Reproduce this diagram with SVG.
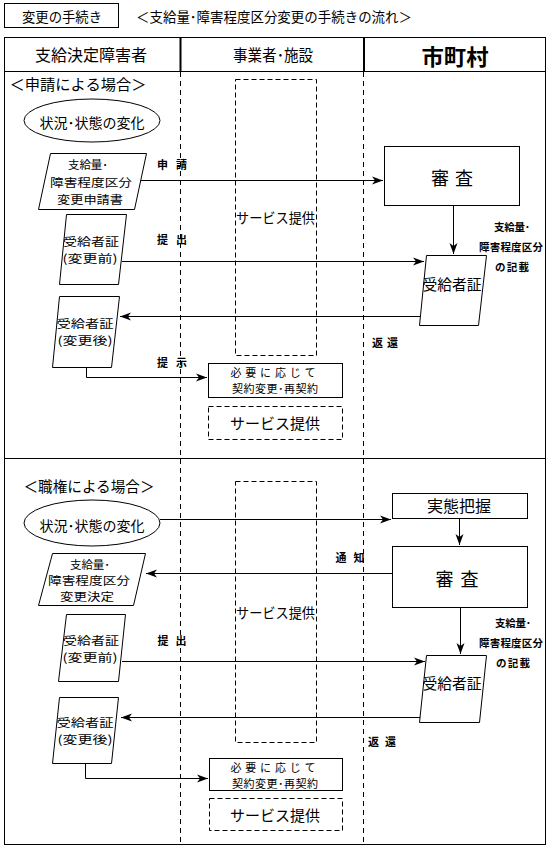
<svg xmlns="http://www.w3.org/2000/svg" width="552" height="851" viewBox="0 0 552 851">
<style>
text{font-family:"Noto Sans CJK JP","Noto Sans",sans-serif;fill:#000;dominant-baseline:central;text-anchor:middle}
.s{font-size:11px;font-weight:bold}
.n{font-size:11px}
.xs{font-size:10.5px;font-weight:bold}
.m{font-size:14px}
.ml{font-size:11.5px}
.mp{font-size:11px}
.l{font-size:15px}
.h{font-size:16px}
.st{font-size:18px}
.ln{fill:none;stroke:#000;stroke-width:1}
.ar{fill:none;stroke:#000;stroke-width:1;marker-end:url(#ah)}
.box{fill:#fff;stroke:#000;stroke-width:1}
.dbox{fill:none;stroke:#000;stroke-width:1;stroke-dasharray:5 3}
.dcol{fill:none;stroke:#000;stroke-width:1;stroke-dasharray:5 4}
</style>
<defs>
<marker id="ah" markerUnits="userSpaceOnUse" markerWidth="12" markerHeight="10" refX="11" refY="4" orient="auto" viewBox="0 0 12 8">
<path d="M0,0 L11,4 L0,8 L3,4 Z" fill="#000"/>
</marker>
</defs>
<rect width="552" height="851" fill="#fff"/>

<g id="title">
<rect x="4.5" y="3.5" width="114" height="24" class="box"/>
<text x="62" y="16" class="m" textLength="80" lengthAdjust="spacingAndGlyphs">変更の手続き</text>
<text x="274" y="16" class="m" textLength="276" lengthAdjust="spacingAndGlyphs">＜支給量･障害程度区分変更の手続きの流れ＞</text>
</g>

<g id="table">
<rect x="4.5" y="37.5" width="541" height="807" class="ln"/>
<line x1="4" y1="71.5" x2="546" y2="71.5" class="ln"/>
<line x1="180.5" y1="37" x2="180.5" y2="71" stroke="#000" stroke-width="2"/>
<line x1="364" y1="37" x2="364" y2="71" stroke="#000" stroke-width="2"/>
<line x1="180.5" y1="72" x2="180.5" y2="845" class="dcol"/>
<line x1="363.5" y1="72" x2="363.5" y2="845" class="dcol"/>
<line x1="4" y1="458.5" x2="546" y2="458.5" class="ln"/>
<text x="91" y="54" class="h" textLength="112" lengthAdjust="spacingAndGlyphs">支給決定障害者</text>
<text x="273" y="54" class="h" textLength="80" lengthAdjust="spacingAndGlyphs">事業者･施設</text>
<text x="455" y="55" style="font-size:22px;font-weight:bold" textLength="67" lengthAdjust="spacingAndGlyphs">市町村</text>
</g>

<g id="upper-label"><text x="78" y="83" class="l" textLength="137" lengthAdjust="spacingAndGlyphs">＜申請による場合＞</text></g>

<g id="connectors">
<path d="M140,180.5 H383" class="ar"/>
<path d="M122,261.5 H424" class="ar"/>
<path d="M453.5,205 V254" class="ar"/>
<path d="M421,316.5 H120" class="ar"/>
<path d="M86.5,367 V377.5 H207" class="ar"/>
<path d="M160,519.5 H391" class="ar"/>
<path d="M459.5,518 V545" class="ar"/>
<path d="M392,573.5 H146" class="ar"/>
<path d="M122,661.5 H425" class="ar"/>
<path d="M460.5,607 V654" class="ar"/>
<path d="M421,717.5 H121" class="ar"/>
<path d="M85.5,763 V778.5 H208" class="ar"/>
</g>

<g id="conn-labels">
<text x="172" y="164" class="s" textLength="30" lengthAdjust="spacing">申 請</text>
<text x="172" y="239" class="s" textLength="30" lengthAdjust="spacing">提 出</text>
<text x="385" y="342" class="s" textLength="26" lengthAdjust="spacing">返 還</text>
<text x="172" y="362" class="s" textLength="30" lengthAdjust="spacing">提 示</text>
<text x="350" y="557" class="s" textLength="29" lengthAdjust="spacing">通 知</text>
<text x="172" y="640" class="s" textLength="29" lengthAdjust="spacing">提 出</text>
<text x="382" y="741" class="s" textLength="28" lengthAdjust="spacing">返 還</text>
<text x="512" y="226" class="xs" textLength="36" lengthAdjust="spacing">支給量･</text>
<text x="511" y="246" class="xs" textLength="64" lengthAdjust="spacing">障害程度区分</text>
<text x="512" y="266" class="xs" textLength="34" lengthAdjust="spacing">の記載</text>
<text x="513" y="622" class="xs" textLength="36" lengthAdjust="spacing">支給量･</text>
<text x="511" y="642" class="xs" textLength="64" lengthAdjust="spacing">障害程度区分</text>
<text x="513" y="662" class="xs" textLength="34" lengthAdjust="spacing">の記載</text>
</g>

<g id="u-change">
<ellipse cx="92" cy="120.5" rx="68" ry="21.5" class="box"/>
<text x="92" y="122" class="m" textLength="105" lengthAdjust="spacingAndGlyphs">状況･状態の変化</text>
</g>
<g id="u-request">
<polygon points="50.5,153.5 146.5,153.5 134.5,209.5 38.5,209.5" class="box"/>
<text x="88" y="164" class="ml" textLength="40" lengthAdjust="spacingAndGlyphs">支給量･</text>
<text x="91" y="181.5" class="ml" textLength="82" lengthAdjust="spacingAndGlyphs">障害程度区分</text>
<text x="90" y="199" class="ml" textLength="66" lengthAdjust="spacingAndGlyphs">変更申請書</text>
</g>
<g id="u-cert-before">
<polygon points="66.5,214.5 126.5,214.5 118.5,284.5 59.5,284.5" class="box"/>
<text x="91" y="241" class="ml" textLength="56" lengthAdjust="spacingAndGlyphs">受給者証</text>
<text x="90" y="258" class="ml" textLength="55" lengthAdjust="spacingAndGlyphs">(変更前)</text>
</g>
<g id="u-cert-after">
<polygon points="59.5,296.5 119.5,296.5 111.5,367.5 52.5,367.5" class="box"/>
<text x="85" y="323" class="ml" textLength="57" lengthAdjust="spacingAndGlyphs">受給者証</text>
<text x="85" y="340" class="ml" textLength="55" lengthAdjust="spacingAndGlyphs">(変更後)</text>
</g>
<g id="u-service-tall">
<rect x="235.5" y="79.5" width="81" height="276" class="dbox"/>
<text x="236" y="217" class="m" style="text-anchor:start" textLength="79" lengthAdjust="spacingAndGlyphs">サービス提供</text>
</g>
<g id="u-contract">
<rect x="208.5" y="363.5" width="134" height="34" class="box"/>
<text x="273" y="372" class="n" textLength="85" lengthAdjust="spacing">必要に応じて</text>
<text x="275" y="388" class="n" textLength="86" lengthAdjust="spacing">契約変更･再契約</text>
</g>
<g id="u-service">
<rect x="208.5" y="406.5" width="134" height="33" class="dbox"/>
<text x="275" y="422" class="l" textLength="90" lengthAdjust="spacingAndGlyphs">サービス提供</text>
</g>
<g id="u-review">
<rect x="384.5" y="146.5" width="135" height="59" class="box"/>
<text x="452" y="177" class="st" textLength="42" lengthAdjust="spacing">審 査</text>
</g>
<g id="u-cert">
<polygon points="426.5,255.5 486.5,255.5 478.5,325.5 419.5,325.5" class="box"/>
<text x="452" y="283" class="l" textLength="59" lengthAdjust="spacingAndGlyphs">受給者証</text>
</g>

<g id="lower-label"><text x="89" y="485" class="l" textLength="131" lengthAdjust="spacingAndGlyphs">＜職権による場合＞</text></g>

<g id="l-change">
<ellipse cx="92" cy="523" rx="68" ry="23" class="box"/>
<text x="92" y="525" class="m" textLength="105" lengthAdjust="spacingAndGlyphs">状況･状態の変化</text>
</g>
<g id="l-decision">
<polygon points="52.5,553.5 145.5,553.5 133.5,605.5 38.5,605.5" class="box"/>
<text x="90" y="564" class="mp" textLength="40" lengthAdjust="spacingAndGlyphs">支給量･</text>
<text x="89" y="580" class="mp" textLength="82" lengthAdjust="spacingAndGlyphs">障害程度区分</text>
<text x="87" y="596" class="mp" textLength="54" lengthAdjust="spacingAndGlyphs">変更決定</text>
</g>
<g id="l-cert-before">
<polygon points="66.5,614.5 125.5,614.5 118.5,681.5 58.5,681.5" class="box"/>
<text x="91" y="640" class="ml" textLength="56" lengthAdjust="spacingAndGlyphs">受給者証</text>
<text x="90" y="657" class="ml" textLength="55" lengthAdjust="spacingAndGlyphs">(変更前)</text>
</g>
<g id="l-cert-after">
<polygon points="59.5,697.5 118.5,697.5 111.5,763.5 52.5,763.5" class="box"/>
<text x="85" y="722" class="ml" textLength="57" lengthAdjust="spacingAndGlyphs">受給者証</text>
<text x="85" y="739" class="ml" textLength="55" lengthAdjust="spacingAndGlyphs">(変更後)</text>
</g>
<g id="l-service-tall">
<rect x="235.5" y="481.5" width="81" height="261" class="dbox"/>
<text x="236" y="612" class="m" style="text-anchor:start" textLength="79" lengthAdjust="spacingAndGlyphs">サービス提供</text>
</g>
<g id="l-contract">
<rect x="209.5" y="758.5" width="133" height="32" class="box"/>
<text x="273" y="767" class="n" textLength="85" lengthAdjust="spacing">必要に応じて</text>
<text x="275" y="783" class="n" textLength="86" lengthAdjust="spacing">契約変更･再契約</text>
</g>
<g id="l-service">
<rect x="209.5" y="798.5" width="133" height="32" class="dbox"/>
<text x="275" y="814" class="l" textLength="90" lengthAdjust="spacingAndGlyphs">サービス提供</text>
</g>
<g id="l-survey">
<rect x="392.5" y="493.5" width="135" height="25" class="box"/>
<text x="459" y="505" class="h" textLength="64" lengthAdjust="spacingAndGlyphs">実態把握</text>
</g>
<g id="l-review">
<rect x="392.5" y="546.5" width="135" height="61" class="box"/>
<text x="457" y="578" class="st" textLength="43" lengthAdjust="spacing">審 査</text>
</g>
<g id="l-cert">
<polygon points="426.5,655.5 486.5,655.5 479.5,722.5 419.5,722.5" class="box"/>
<text x="452" y="682" class="l" textLength="59" lengthAdjust="spacingAndGlyphs">受給者証</text>
</g>
</svg>
